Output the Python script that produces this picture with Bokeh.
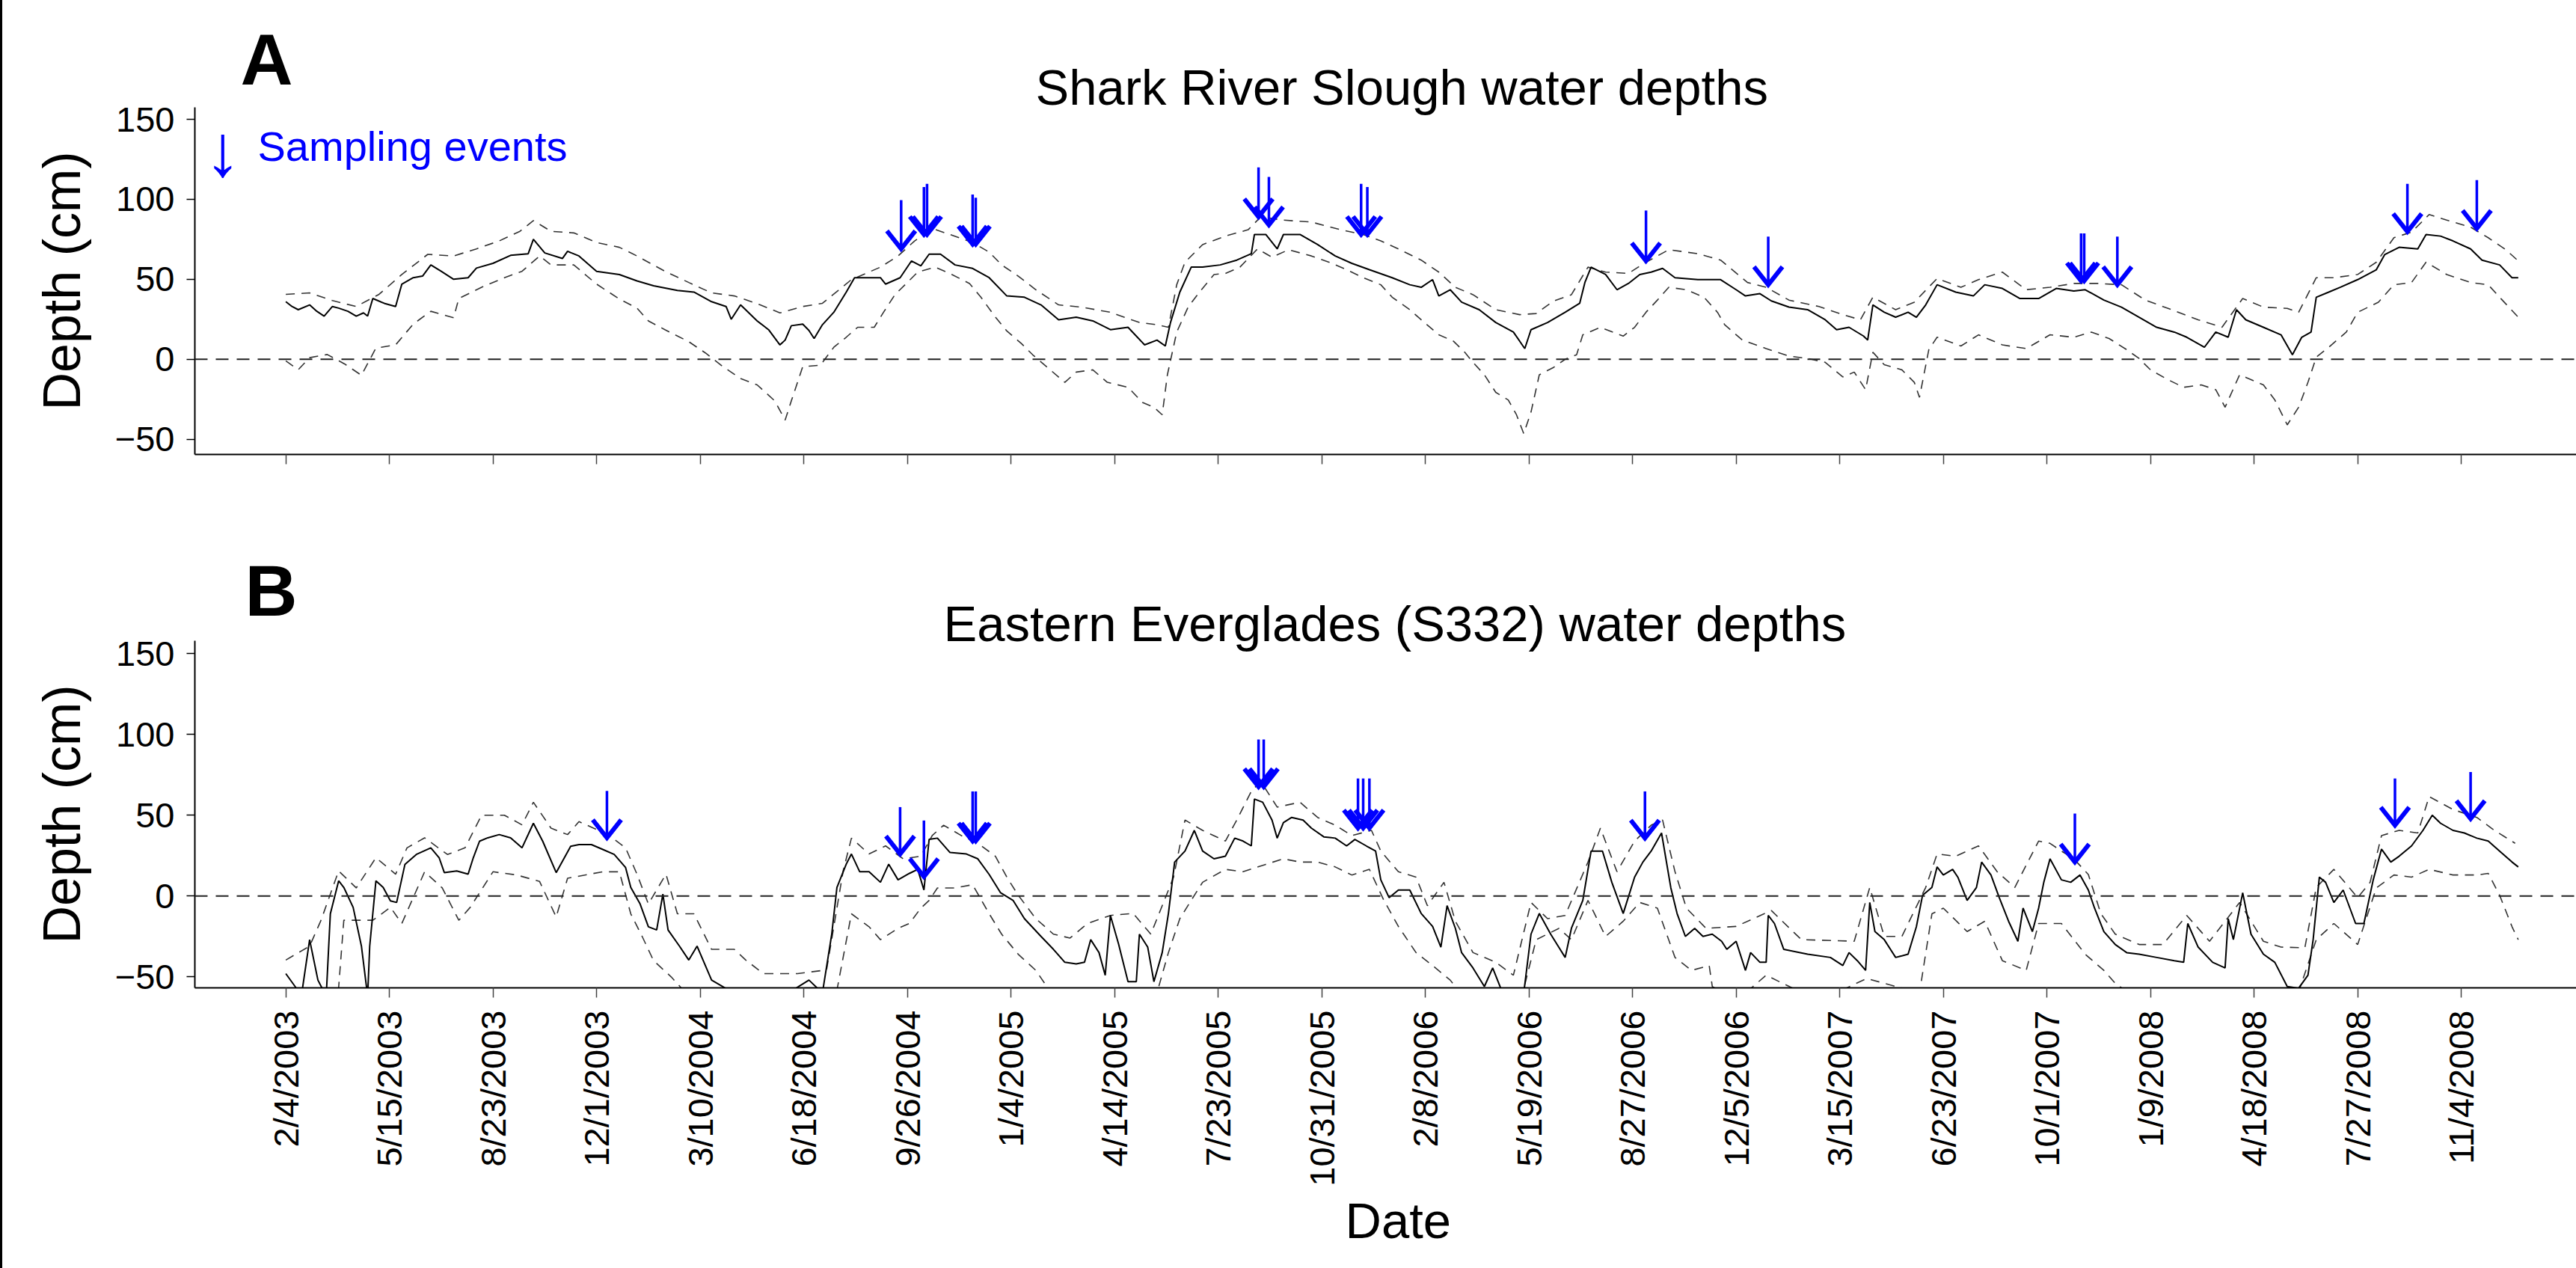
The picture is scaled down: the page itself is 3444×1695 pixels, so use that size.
from datetime import date
from math import pi

from bokeh.embed import file_html
from bokeh.layouts import column, row
from bokeh.models import ColumnDataSource, Div, FixedTicker, Label, Range1d, Span, Title
from bokeh.plotting import figure
from bokeh.resources import INLINE

FONT = "Liberation Sans"
BLUE = "#0000FF"
START = date(2003, 2, 4)  # day 0 of the record; x values are days since this date

TICK_LABELS = ["2/4/2003", "5/15/2003", "8/23/2003", "12/1/2003", "3/10/2004",
               "6/18/2004", "9/26/2004", "1/4/2005", "4/14/2005", "7/23/2005",
               "10/31/2005", "2/8/2006", "5/19/2006", "8/27/2006", "12/5/2006",
               "3/15/2007", "6/23/2007", "10/1/2007", "1/9/2008", "4/18/2008",
               "7/27/2008", "11/4/2008"]
DEPTH_TICKS = [-50, 0, 50, 100, 150]

# ---- Shark River Slough: (day, depth cm) ----
SRS_MEAN = [(0, 36), (6, 33), (12, 31), (23, 34), (30, 30), (37, 27), (45, 33), (51, 32), (60, 30), (68, 27),
            (75, 29), (79, 27), (84, 38), (95, 35), (106, 33), (112, 47), (123, 51), (132, 52), (140, 59), (150, 55),
            (162, 50), (176, 51), (184, 57), (200, 60), (217, 65), (234, 66), (239, 75), (250, 66.5), (267, 63),
            (272, 67.5), (283, 64.6), (300, 55), (322, 53), (339, 49), (355, 46), (378, 43), (394, 42), (411, 36),
            (425, 33), (430, 25), (439, 34), (455, 24), (466, 18.5), (477, 9), (482, 12), (488, 21), (499, 22),
            (505, 18), (510, 13), (518, 21.6), (529, 29.4), (541, 42), (549, 51), (574, 51), (579, 47), (593, 51),
            (604, 61.5), (613, 58.4), (621, 65.7), (632, 65.7), (646, 59), (663, 56.8), (679, 51), (696, 39.6),
            (713, 38.8), (729, 34), (746, 24.7), (763, 26.3), (779, 24), (796, 18.5), (813, 20), (829, 9), (841, 12),
            (849, 8.3), (854, 23), (863, 42), (874, 57.6), (885, 57.6), (902, 59), (918, 62), (932, 66), (935, 78),
            (946, 78), (957, 69), (963, 78), (979, 78), (996, 71.7), (1013, 64.6), (1029, 60), (1046, 56), (1068, 51),
            (1085, 46.6), (1096, 45), (1107, 49.8), (1113, 39.6), (1124, 43.5), (1135, 35.7), (1152, 31), (1168, 23),
            (1185, 17), (1196, 6.7), (1202, 18.5), (1218, 23), (1235, 29.4), (1249, 35), (1254, 48), (1260, 57.6),
            (1274, 53), (1285, 43.5), (1296, 47.4), (1307, 53), (1318, 54.5), (1329, 56.8), (1341, 51), (1363, 49.8),
            (1385, 49.8), (1400, 43.5), (1409, 39.6), (1423, 41), (1434, 36.5), (1451, 32.6), (1469, 31),
            (1486, 24.7), (1497, 18.5), (1509, 20), (1523, 14.5), (1527, 12), (1532, 34), (1543, 29.4), (1554, 26.3),
            (1566, 29.4), (1574, 26.3), (1583, 34), (1594, 46.6), (1612, 42), (1629, 39.6), (1640, 46.6),
            (1657, 44.3), (1674, 38), (1692, 38), (1709, 44.3), (1726, 42.7), (1737, 43.5), (1755, 37), (1772, 32.6),
            (1789, 26.3), (1806, 20), (1823, 17), (1835, 13.8), (1852, 7.5), (1863, 17), (1875, 13.8), (1883, 31),
            (1892, 24.7), (1909, 20), (1926, 15.3), (1937, 2.8), (1946, 13.8), (1955, 17), (1960, 38.8), (1972, 42),
            (1983, 45), (2000, 49.8), (2018, 56), (2026, 65.4), (2040, 70), (2058, 69), (2066, 78), (2080, 77),
            (2092, 74), (2109, 69), (2120, 62), (2137, 59), (2149, 51), (2155, 51)]

SRS_HIGH = [(0, 40.6), (23, 41.5), (45, 36.7), (68, 33), (90, 40.6), (112, 53), (137, 65.6), (162, 64.6), (184, 69),
            (206, 74), (226, 80), (239, 86.7), (256, 80), (278, 79), (300, 73), (322, 70), (339, 64.6), (366, 55),
            (389, 48), (411, 41.5), (433, 39.6), (455, 34.8), (477, 29), (499, 33), (518, 35), (546, 49.8),
            (574, 57.6), (591, 64.6), (607, 74), (624, 81.8), (641, 78), (663, 73), (679, 67), (691, 59), (707, 52),
            (724, 43.5), (746, 34), (768, 32.6), (796, 29.4), (824, 23), (841, 21.6), (852, 20), (860, 46.6),
            (868, 60.7), (885, 71.7), (907, 77), (929, 81), (941, 89), (963, 87), (990, 85.8), (1018, 81),
            (1040, 78), (1057, 74), (1074, 69), (1096, 62), (1113, 54.5), (1129, 45), (1146, 40.4), (1168, 31),
            (1191, 27.9), (1207, 28.6), (1224, 36.5), (1241, 40.4), (1257, 57.6), (1274, 54.5), (1296, 53.7),
            (1313, 60.7), (1335, 68.5), (1363, 66), (1385, 62), (1411, 48), (1429, 45), (1451, 37), (1480, 33),
            (1503, 27.9), (1520, 24.7), (1532, 38.8), (1554, 31), (1572, 35.7), (1594, 50.5), (1617, 45),
            (1634, 49.8), (1657, 54.5), (1680, 43.5), (1703, 45), (1726, 47.4), (1749, 47.4), (1772, 46.6),
            (1795, 37), (1817, 31.8), (1846, 24.7), (1869, 20), (1889, 38), (1909, 32.6), (1932, 31.8), (1943, 29.4),
            (1960, 51), (1977, 51), (2000, 53), (2018, 60.7), (2035, 76), (2052, 79.5), (2069, 90.5), (2086, 87),
            (2109, 82.6), (2126, 76), (2143, 68.5), (2155, 61.5)]

SRS_LOW = [(0, -1), (12, -6.5), (23, 1), (40, 3), (57, -3), (73, -10), (87, 7), (106, 9), (123, 22), (140, 30),
           (162, 26), (167, 38), (189, 45), (211, 51), (228, 55), (245, 64.6), (256, 59), (278, 59), (300, 47),
           (322, 37.7), (339, 32), (350, 24), (366, 18.5), (389, 11), (405, 4), (422, -4.6), (439, -12), (455, -16),
           (472, -26), (482, -38), (488, -26), (499, -4.6), (516, -3.7), (529, 7.5), (541, 13.8), (552, 20),
           (568, 20), (577, 29.4), (588, 40.4), (599, 47.4), (610, 54.5), (627, 57.6), (643, 53), (660, 47.4),
           (671, 38.8), (685, 26.3), (696, 17.7), (710, 9.9), (721, 2.8), (735, -5), (752, -14.4), (763, -8),
           (779, -6.6), (793, -14.4), (813, -17.5), (827, -27), (838, -30), (846, -34.7), (851, -9.7), (860, 17),
           (871, 32.6), (882, 42), (896, 53), (907, 53.7), (921, 57.6), (938, 69), (952, 63.8), (968, 68.5),
           (990, 64.6), (1007, 60.7), (1024, 56), (1040, 51), (1057, 46.6), (1068, 38.8), (1085, 31), (1096, 24.7),
           (1113, 15.3), (1127, 11.4), (1138, 4.4), (1146, -1.9), (1157, -9.7), (1168, -20.7), (1180, -25.4),
           (1188, -34.7), (1195, -46.5), (1202, -33), (1210, -9.7), (1224, -5), (1235, 0), (1246, 2.8),
           (1252, 15.3), (1269, 20), (1291, 14.5), (1302, 20), (1313, 29.4), (1324, 37), (1335, 45), (1352, 43.5),
           (1369, 38.8), (1382, 29.4), (1389, 21.6), (1406, 12), (1429, 6.7), (1451, 2), (1469, 0.5), (1486, -1.9),
           (1503, -11), (1514, -8), (1525, -19), (1532, 4.4), (1543, -3.4), (1560, -6.6), (1572, -14.4),
           (1577, -23.8), (1586, 6), (1594, 13.8), (1617, 8.3), (1634, 15.3), (1657, 9), (1680, 6.7), (1703, 15.3),
           (1726, 13.8), (1743, 17), (1760, 13), (1777, 6), (1789, 0.5), (1800, -6.6), (1817, -12.8),
           (1832, -17.5), (1849, -16), (1863, -19), (1872, -30), (1886, -9.7), (1909, -16), (1920, -25.4),
           (1932, -41), (1943, -30), (1952, -14.4), (1960, 1.3), (1972, 7.5), (1989, 17), (2000, 29.4),
           (2020, 35.7), (2035, 46.6), (2052, 48), (2066, 60.7), (2086, 53), (2109, 48), (2126, 46.6),
           (2137, 38.8), (2155, 26.3)]

# sampling events: (day, arrow tip cm, arrow tail cm)
SRS_EVENTS = [(594, 69, 99.5), (616, 78, 107.7), (619, 78, 109.7), (663, 72, 103), (666, 72, 101),
              (939, 89, 120), (949, 84, 114), (1038, 78, 109.7), (1044, 78, 107.7), (1313, 61.5, 93),
              (1431, 46.6, 76.7), (1733, 49, 78.7), (1736, 49, 78.7), (1768, 46.6, 76.7),
              (2048, 79.8, 109.7), (2115, 81.8, 112)]

# ---- Eastern Everglades (S332): (day, depth cm) ----
S332_MEAN = [(0, -48), (9, -56), (15, -62), (23, -27), (31, -52), (39, -62), (43, -11), (51, 9.4), (56, 5.3),
             (65, -7), (73, -31), (79, -62), (81, -31), (87, 9.4), (94, 5.3), (101, -3), (107, -4), (115, 19.6),
             (126, 25.7), (140, 29.8), (148, 23.7), (153, 14.5), (165, 15.5), (176, 13.5), (181, 23.7), (187, 33.9),
             (195, 36), (206, 38), (217, 36), (228, 29.8), (239, 45), (248, 33.9), (261, 14.5), (275, 30.8),
             (283, 31.8), (295, 31.8), (306, 28.8), (317, 25.7), (328, 17.6), (333, 5.3), (342, -4.9), (350, -19),
             (358, -21), (364, 1.2), (369, -21), (380, -31), (389, -39.6), (397, -31), (411, -52), (427, -58),
             (440, -65), (470, -62), (490, -58), (505, -52), (518, -60), (527, -23.6), (532, 5.3), (541, 19.7),
             (546, 26), (554, 15), (563, 15), (574, 8.5), (582, 19.7), (591, 10), (602, 14), (610, 16.5),
             (616, 3.7), (621, 35), (629, 35.8), (641, 27), (657, 26), (668, 23), (679, 13.3), (690, 2),
             (702, -2.7), (713, -14), (729, -25), (741, -33), (752, -41), (763, -42), (771, -41), (777, -27),
             (785, -35), (791, -49), (796, -12), (804, -30), (813, -53), (821, -53), (824, -23.6), (832, -31.6),
             (838, -53), (846, -35), (852, -10.8), (858, 21), (868, 27.8), (877, 40.6), (885, 27.8), (896, 23),
             (907, 24.6), (916, 35.8), (924, 34), (932, 31), (935, 60), (943, 58), (952, 47), (957, 35.8),
             (963, 45.4), (971, 48.6), (982, 47), (990, 42), (1002, 36.6), (1013, 35.8), (1024, 31), (1032, 35),
             (1043, 31), (1052, 27.8), (1057, 10), (1065, -1), (1074, 3.7), (1085, 3.7), (1096, -10.8),
             (1107, -18.8), (1115, -31.6), (1121, -6), (1129, -20), (1135, -35), (1146, -44.5), (1157, -56),
             (1165, -44.5), (1174, -59), (1185, -62), (1195, -60), (1202, -23.6), (1210, -10.8), (1221, -23.6),
             (1235, -38), (1241, -20), (1252, -2.7), (1260, 27.8), (1271, 27.8), (1280, 8.5), (1291, -10.8),
             (1302, 11.7), (1310, 21), (1318, 27.8), (1328, 39), (1337, 5), (1343, -10.8), (1351, -25), (1360, -20),
             (1368, -25), (1377, -23.6), (1386, -28), (1391, -33), (1400, -28), (1409, -46), (1414, -35),
             (1423, -41), (1429, -41), (1431, -12), (1437, -17), (1446, -33), (1469, -36), (1491, -38), (1503, -43),
             (1509, -35), (1517, -40), (1525, -46), (1529, -4), (1534, -22), (1543, -27), (1554, -38), (1566, -36),
             (1574, -19), (1580, 0.5), (1589, 5.3), (1594, 18), (1600, 13), (1609, 16.5), (1614, 11.7),
             (1623, -2.7), (1632, 5.3), (1637, 21), (1646, 13), (1654, -1), (1663, -15.6), (1672, -28),
             (1677, -7.5), (1686, -22), (1692, -7.5), (1697, 8.5), (1703, 23), (1714, 10), (1723, 8.5), (1732, 13),
             (1740, 3.7), (1746, -7.5), (1755, -22), (1766, -30), (1777, -35), (1789, -36), (1806, -38),
             (1823, -40), (1832, -41), (1836, -17), (1846, -31.6), (1860, -41), (1872, -44.5), (1875, -14),
             (1880, -27), (1889, 2), (1897, -23.6), (1909, -36), (1920, -41), (1932, -56), (1943, -57), (1952, -49),
             (1957, -27), (1963, 11.7), (1969, 8.5), (1977, -4), (1986, 3.7), (1998, -17), (2006, -17), (2015, 10),
             (2023, 29), (2032, 21), (2040, 24.6), (2052, 31), (2063, 40.6), (2072, 50), (2080, 45), (2092, 40.6),
             (2103, 39), (2115, 35.8), (2126, 34), (2137, 27.8), (2149, 21), (2155, 18)]

S332_HIGH = [(0, -39.6), (23, -31), (34, -15), (51, 15.5), (68, 5), (87, 23.7), (106, 13.5), (117, 29.8),
             (134, 36), (156, 25.7), (173, 29.8), (189, 50), (211, 50), (228, 44), (239, 58), (256, 42), (272, 38),
             (283, 46), (311, 38), (328, 29.8), (339, 13.5), (350, -4.9), (367, 13.5), (378, -11), (394, -11),
             (411, -33), (433, -33), (444, -39.6), (461, -48), (494, -48), (522, -45.7), (538, 15.5), (546, 35.8),
             (563, 26), (579, 31), (596, 23), (613, 24.6), (624, 37.4), (635, 43.8), (652, 37.4), (668, 32.6),
             (685, 24.6), (696, 11.7), (707, 0.5), (724, -14), (741, -23.6), (757, -26), (774, -17), (796, -12),
             (818, -10.8), (835, -23.6), (846, -6), (857, 11.7), (868, 47), (885, 40.6), (907, 34), (918, 47),
             (932, 64.7), (941, 71), (957, 55), (979, 58), (996, 48.6), (1013, 43.8), (1029, 37.4), (1048, 40.6),
             (1057, 27.8), (1074, 15), (1091, 11.7), (1102, -6), (1118, 8.5), (1129, -15.6), (1146, -35),
             (1168, -41), (1185, -49), (1202, -4), (1218, -14), (1235, -12), (1257, 21), (1269, 42), (1285, 15),
             (1302, 34), (1318, 43.8), (1329, 47), (1341, 15), (1352, -7.5), (1371, -20), (1400, -18.8), (1434, -9),
             (1463, -27), (1497, -27.6), (1514, -28), (1529, 5.3), (1543, -25), (1560, -25), (1583, 5.3),
             (1594, 26), (1612, 24.6), (1634, 31), (1652, 15), (1669, 5.3), (1692, 34), (1703, 32.6), (1714, 27.8),
             (1726, 23), (1740, 13.3), (1752, -10.8), (1766, -23.6), (1789, -30), (1812, -30), (1835, -12),
             (1857, -28), (1886, -4), (1909, -28), (1926, -31.6), (1949, -32), (1960, 5.3), (1977, 16.5),
             (2000, -1), (2012, 8.5), (2023, 37.4), (2040, 40.6), (2058, 39), (2069, 61.5), (2092, 53.5),
             (2115, 48.6), (2132, 40.6), (2152, 32.6)]

S332_LOW = [(0, -70), (50, -65), (56, -15), (84, -15), (101, -7), (112, -17), (134, 15), (151, 5), (167, -15),
            (178, -7), (200, 15), (223, 13), (245, 9), (261, -13), (272, 11), (306, 15), (322, 15), (333, -11),
            (344, -25), (355, -40), (372, -50), (389, -62), (450, -70), (530, -65), (546, -11), (563, -19),
            (574, -27), (591, -20), (602, -17), (613, -7.5), (621, -2.7), (629, 5), (646, 5), (663, 7), (679, -11),
            (691, -23.6), (707, -36), (724, -46), (741, -62), (800, -70), (840, -62), (852, -35), (863, -14),
            (874, -2.7), (885, 8.5), (907, 16.5), (924, 15), (946, 19.6), (963, 23), (979, 21), (996, 21),
            (1013, 18), (1029, 13), (1046, 16.5), (1060, -2.7), (1074, -18.8), (1091, -35), (1107, -43),
            (1124, -52), (1140, -65), (1190, -70), (1207, -27), (1229, -20), (1241, -27), (1257, -2.7), (1274, -25),
            (1291, -15.6), (1307, -4), (1324, -7.5), (1341, -38), (1357, -46), (1374, -43), (1377, -56),
            (1400, -65), (1429, -49), (1480, -65), (1526, -51), (1577, -60), (1589, -11), (1600, -7.5), (1623, -22),
            (1640, -15.6), (1657, -40), (1680, -46), (1692, -17), (1714, -17), (1737, -36), (1755, -46),
            (1766, -54), (1790, -65), (1940, -65), (1960, -27), (1977, -17), (2000, -30), (2018, 5), (2035, 13),
            (2052, 11.7), (2069, 16.5), (2092, 13), (2115, 13), (2126, 14), (2137, 0.5), (2149, -19), (2155, -27)]

S332_EVENTS = [(310, 36, 65), (593, 26, 55), (616, 12, 46.7), (663, 34, 64.7), (666, 34, 64.7),
               (939, 67.6, 96.8), (944, 67.6, 96.8), (1035, 42, 72.7), (1040, 42, 72.7), (1046, 42, 72.7),
               (1312, 35.8, 64.7), (1727, 21, 51), (2036, 43.8, 72.7), (2109, 47.8, 76.7)]


def day_of(label):
    m, d, y = (int(v) for v in label.split("/"))
    return (date(y, m, d) - START).days


TICK_DAYS = [day_of(s) for s in TICK_LABELS]

# layout (pixels)
EDGE_W = 3
FRAME_LEFT = 257
FRAME_W, FRAME_H = 3444 - EDGE_W - FRAME_LEFT, 464
X_START, X_END = -87.8, 2211.1
HEAD_HALF_W, HEAD_H = 19, 24


def build_panel(letter, title, mean, high, low, events, y_lo, y_hi, top, bottom, dated,
                title_offset, title_standoff, letter_offset, letter_standoff):
    p = figure(frame_width=FRAME_W, frame_height=FRAME_H,
               x_range=Range1d(X_START, X_END), y_range=Range1d(y_lo, y_hi),
               min_border_left=FRAME_LEFT, min_border_right=0, min_border_top=top, min_border_bottom=bottom,
               output_backend="svg", toolbar_location=None)
    p.grid.visible = False
    p.outline_line_color = None
    p.background_fill_color = "white"
    p.border_fill_color = "white"

    # panel heading: the first title sits closest to the frame, the letter above it
    p.add_layout(Title(text=title, align="left", offset=title_offset, standoff=title_standoff,
                       text_font=FONT, text_font_style="normal", text_font_size="67px",
                       text_color="black"), "above")
    p.add_layout(Title(text=letter, align="left", offset=letter_offset, standoff=letter_standoff,
                       text_font=FONT, text_font_style="bold", text_font_size="97px",
                       text_color="black"), "above")

    # axes
    p.yaxis.ticker = FixedTicker(ticks=DEPTH_TICKS, minor_ticks=[])
    p.yaxis.axis_line_width = 2
    p.yaxis.major_tick_out = 11
    p.yaxis.major_tick_in = 0
    p.yaxis.major_tick_line_width = 1.5
    p.yaxis.major_label_standoff = 16
    p.yaxis.major_label_text_font = FONT
    p.yaxis.major_label_text_font_size = "47px"
    p.yaxis.major_label_text_color = "black"
    p.yaxis.axis_label = "Depth (cm)"
    p.yaxis.axis_label_text_font = FONT
    p.yaxis.axis_label_text_font_style = "normal"
    p.yaxis.axis_label_text_font_size = "70px"
    p.yaxis.axis_label_text_color = "black"
    p.yaxis.axis_label_standoff = 29

    p.xaxis.ticker = FixedTicker(ticks=TICK_DAYS, minor_ticks=[])
    p.xaxis.axis_line_width = 2
    p.xaxis.major_tick_out = 13
    p.xaxis.major_tick_in = 0
    p.xaxis.major_tick_line_width = 1.5
    p.xaxis.major_tick_line_color = "#444444"
    p.xaxis.major_label_orientation = pi / 2
    p.xaxis.major_label_standoff = 17
    p.xaxis.major_label_text_font = FONT
    p.xaxis.major_label_text_color = "black"
    if dated:
        p.xaxis.major_label_text_font_size = "47px"
        p.xaxis.major_label_overrides = {d: s for d, s in zip(TICK_DAYS, TICK_LABELS)}
        # shared x-axis title below the date labels
        p.add_layout(Title(text="Date", align="left", offset=1538, standoff=10, vertical_align="top",
                           text_font=FONT, text_font_style="normal", text_font_size="67px",
                           text_color="black"), "below")
    else:
        p.xaxis.major_label_text_font_size = "1px"
        p.xaxis.major_label_overrides = {d: "" for d in TICK_DAYS}

    # zero-depth reference
    p.add_layout(Span(location=0, dimension="width", line_color="#222222",
                      line_width=2, line_dash="17 11"))

    # envelope and mean depth
    for series in (high, low):
        xs, ys = zip(*series)
        p.line(list(xs), list(ys), line_color="#333333", line_width=1.6, line_dash="12 9")
    xs, ys = zip(*mean)
    p.line(list(xs), list(ys), line_color="black", line_width=2)

    # sampling-event arrows
    days, tips, tails = (list(v) for v in zip(*events))
    px_day = FRAME_W / (X_END - X_START)
    px_cm = FRAME_H / (y_hi - y_lo)
    hw, hh = HEAD_HALF_W / px_day, HEAD_H / px_cm
    src = ColumnDataSource(dict(
        day=days, tip=tips, tail=tails,
        hx=[[d - hw, d, d + hw] for d in days],
        hy=[[t + hh, t, t + hh] for t in tips]))
    p.segment(x0="day", y0="tail", x1="day", y1="tip", source=src, line_color=BLUE, line_width=3.5)
    p.multi_line(xs="hx", ys="hy", source=src, line_color=BLUE, line_width=6, line_join="miter")
    return p


pa = build_panel("A", "Shark River Slough water depths", SRS_MEAN, SRS_HIGH, SRS_LOW, SRS_EVENTS,
                 -59.5, 157.5, top=143, bottom=93, dated=False,
                 title_offset=1124, title_standoff=-20, letter_offset=61, letter_standoff=-94)
pb = build_panel("B", "Eastern Everglades (S332) water depths", S332_MEAN, S332_HIGH, S332_LOW, S332_EVENTS,
                 -56.8, 157.9, top=156, bottom=375, dated=True,
                 title_offset=1001, title_standoff=-28, letter_offset=67, letter_standoff=-72)

# legend for the arrows
pa.add_layout(Label(x=13, y=407, x_units="screen", y_units="screen", text="\u2193",
                    text_font=FONT, text_font_size="98px", text_color=BLUE, text_baseline="middle"))
pa.add_layout(Label(x=84, y=381, x_units="screen", y_units="screen", text="Sampling events",
                    text_font=FONT, text_font_size="56px", text_color=BLUE))

edge = Div(text="", width=EDGE_W, height=1695, margin=0, styles={"background-color": "#000000"})
layout = row(edge, column(pa, pb, spacing=0), spacing=0)

open("out.html", "w").write(file_html(layout, INLINE))
